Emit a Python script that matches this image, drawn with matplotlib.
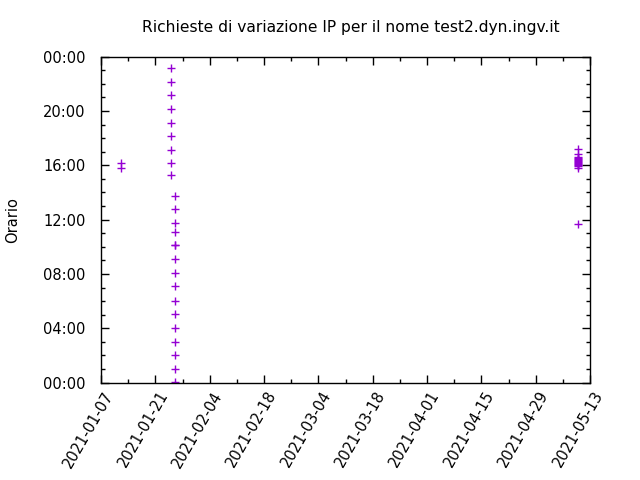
import numpy as np
import matplotlib
matplotlib.use('Agg')
import matplotlib.pyplot as plt
import matplotlib.dates as mdates
import matplotlib.transforms as mtransforms
from matplotlib.ticker import FuncFormatter, MultipleLocator
import datetime as dt

# richieste: giorno -> ore (decimali) delle variazioni
days = ['2021-01-12', '2021-01-25', '2021-01-26', '2021-05-10']
hours_jan12 = [16.18, 15.78]
hours_jan25 = [23.15, 22.12, 21.15, 20.15, 19.15, 18.15, 17.1, 16.18, 15.27]
hours_jan26 = [13.71, 12.75, 11.75, 11.12, 10.10, 10.16, 9.08, 8.09,
               7.08, 6.02, 5.06, 3.99, 2.99, 2.03, 0.99, 0.05]
hours_may10 = [17.21, 16.8, 16.62, 16.55, 16.47, 16.4, 16.33, 16.27, 16.2,
               16.12, 16.05, 15.98, 15.78, 11.66]
all_hours = [hours_jan12, hours_jan25, hours_jan26, hours_may10]

xmin, xmax = '2021-01-07', '2021-05-13'
title = 'Richieste di variazione IP per il nome test2.dyn.ingv.it'

fig = plt.figure(figsize=(6.4, 4.8), dpi=100)
ax = fig.add_axes([0.158, 0.203, 0.764, 0.679])

for d, hh in zip(days, all_hours):
    x = [dt.datetime.fromisoformat(d)] * len(hh)
    ax.plot(x, hh, linestyle='none', marker='+', color='#9400d3',
            markersize=5.5, markeredgewidth=1.0)

start = dt.datetime.fromisoformat(xmin)
ax.set_xlim(start, dt.datetime.fromisoformat(xmax))
ax.set_ylim(0, 24)

major = [start + dt.timedelta(days=14 * i) for i in range(10)]
minor = [start + dt.timedelta(days=7 + 14 * i) for i in range(9)]
ax.set_xticks(major)
ax.set_xticks(minor, minor=True)
ax.xaxis.set_major_formatter(mdates.DateFormatter('%Y-%m-%d'))

ax.yaxis.set_major_locator(MultipleLocator(4))
ax.yaxis.set_minor_locator(MultipleLocator(1))
ax.yaxis.set_major_formatter(FuncFormatter(lambda v, p: '%02d:00' % (int(round(v)) % 24)))

ax.tick_params(which='both', direction='in', top=True, right=True,
               labelsize=10.5, width=1.0)
ax.tick_params(which='major', length=6)
ax.tick_params(which='minor', length=3)
ax.tick_params(axis='y', pad=11)
ax.tick_params(axis='x', pad=7)
shift = mtransforms.ScaledTranslation(9 / 100, 0, fig.dpi_scale_trans)
for lab in ax.get_xticklabels():
    lab.set_rotation(60)
    lab.set_ha('right')
    lab.set_va('center')
    lab.set_rotation_mode('anchor')
    lab.set_transform(lab.get_transform() + shift)

for s in ax.spines.values():
    s.set_linewidth(1.0)

ax.set_ylabel('Orario', fontsize=10.5, va='center')
ax.yaxis.set_label_coords(-0.181, 0.5)
fig.text(0.548, 0.943, title, ha='center', va='center', fontsize=11.2)

fig.savefig('out.png', dpi=100)
